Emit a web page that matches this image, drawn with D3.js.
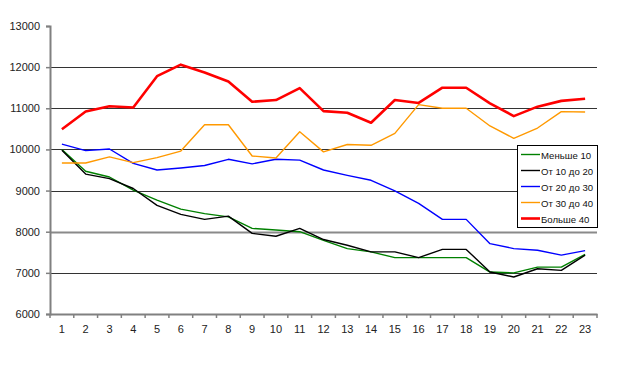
<!DOCTYPE html>
<html>
<head>
<meta charset="utf-8">
<script src="https://cdn.jsdelivr.net/npm/d3@7"></script>
<style>
  body { margin: 0; background: #fff; }
  svg { display: block; font-family: "Liberation Sans", Arial, sans-serif; }
</style>
</head>
<body>
<div id="chart"></div>
<script>
var categories = d3.range(1, 24).map(String);

var seriesNames = ["Меньше 10", "От 10 до 20", "От 20 до 30", "От 30 до 40", "Больше 40"];
var seriesColors = ["#008000", "#000000", "#0000ff", "#ff9900", "#ff0000"];

var less10 = [10000, 9470, 9330, 9010, 8770, 8550, 8440, 8360, 8080, 8040, 8000, 7790,
  7590, 7510, 7370, 7370, 7370, 7370, 7020, 7000, 7140, 7140, 7450];
var from10to20 = [9980, 9400, 9290, 9050, 8640, 8420, 8300, 8380, 7960, 7890, 8080, 7810,
  7670, 7510, 7510, 7370, 7570, 7570, 7020, 6900, 7100, 7060, 7430];
var from20to30 = [10130, 9970, 10010, 9660, 9500, 9550, 9610, 9760, 9650, 9760, 9740, 9500,
  9370, 9250, 8990, 8690, 8300, 8300, 7710, 7590, 7550, 7430, 7540];
var from30to40 = [9670, 9670, 9820, 9680, 9800, 9960, 10600, 10600, 9840, 9790, 10430, 9940,
  10120, 10100, 10390, 11090, 11000, 11000, 10570, 10270, 10520, 10920, 10910];
var more40 = [10490, 10920, 11050, 11020, 11780, 12060, 11870, 11650, 11160, 11200, 11490, 10930,
  10890, 10650, 11200, 11130, 11500, 11500, 11120, 10810, 11040, 11180, 11230];

var yTicks = [6000, 7000, 8000, 9000, 10000, 11000, 12000, 13000];

var width = 623, height = 372;
var plot = { left: 50, right: 597, top: 26, bottom: 314 };

var svg = d3.select("#chart").append("svg")
  .attr("width", width)
  .attr("height", height);

var x = d3.scaleBand().domain(categories).range([plot.left, plot.right]);
var y = d3.scaleLinear().domain([6000, 13000]).range([plot.bottom, plot.top]);

// gridlines (the 8000 one comes out grey and thicker in the original)
svg.append("g")
  .selectAll("line")
  .data(yTicks.filter(function(t) { return t > 6000 && t < 13000; }))
  .enter()
  .append("line")
  .attr("x1", plot.left)
  .attr("x2", plot.right)
  .attr("y1", function(d) { return Math.round(y(d)) + 0.5; })
  .attr("y2", function(d) { return Math.round(y(d)) + 0.5; })
  .attr("stroke", function(d) { return d === 8000 ? "#8a8a8a" : "#333"; })
  .attr("stroke-width", function(d) { return d === 8000 ? 2 : 1; });

// y axis
var yAxis = svg.append("g")
  .attr("transform", "translate(" + plot.left + ",0)")
  .call(d3.axisLeft(y).tickValues(yTicks).tickSize(4).tickPadding(6).tickFormat(d3.format("d")));
yAxis.select(".domain").attr("stroke", "#808080").attr("stroke-width", 2);
yAxis.selectAll(".tick line").attr("stroke", "#808080").attr("stroke-width", 1.5);
yAxis.selectAll(".tick text").attr("font-size", 11).attr("fill", "#222")
  .attr("font-family", "Liberation Sans, Arial, sans-serif");

// x axis
var xAxis = svg.append("g")
  .attr("transform", "translate(0," + plot.bottom + ")")
  .call(d3.axisBottom(x).tickSize(0).tickPadding(11));
xAxis.select(".domain").attr("stroke", "#808080").attr("stroke-width", 2);
xAxis.selectAll(".tick text").attr("font-size", 11).attr("fill", "#222")
  .attr("font-family", "Liberation Sans, Arial, sans-serif");
xAxis.append("g")
  .selectAll("line")
  .data(categories.concat(["end"]))
  .enter()
  .append("line")
  .attr("x1", function(d) { return d === "end" ? plot.right : x(d); })
  .attr("x2", function(d) { return d === "end" ? plot.right : x(d); })
  .attr("y1", 0)
  .attr("y2", 4)
  .attr("stroke", "#808080")
  .attr("stroke-width", 1.5);

// series
var allSeries = [less10, from10to20, from20to30, from30to40, more40];
var line = d3.line()
  .x(function(d, i) { return x(categories[i]) + x.bandwidth() / 2; })
  .y(function(d) { return y(d); });

svg.append("g")
  .selectAll("path")
  .data(allSeries)
  .enter()
  .append("path")
  .attr("d", line)
  .attr("fill", "none")
  .attr("stroke", function(d, i) { return seriesColors[i]; })
  .attr("stroke-width", function(d, i) { return i === 4 ? 2.6 : 1.4; })
  .attr("stroke-linejoin", "round");

// legend
var legend = svg.append("g").attr("transform", "translate(517,145)");
legend.append("rect")
  .attr("x", 0.5).attr("y", 0.5)
  .attr("width", 80).attr("height", 82)
  .attr("fill", "#fff")
  .attr("stroke", "#000");

var items = legend.selectAll(".item")
  .data(seriesNames)
  .enter()
  .append("g")
  .attr("transform", function(d, i) { return "translate(0," + (9.5 + i * 16) + ")"; });
items.append("line")
  .attr("x1", 4).attr("x2", 23)
  .attr("stroke", function(d, i) { return seriesColors[i]; })
  .attr("stroke-width", function(d, i) { return i === 4 ? 2.6 : 1.4; });
items.append("text")
  .attr("x", 24)
  .attr("y", 4)
  .attr("font-size", 9.6)
  .attr("fill", "#111")
  .text(function(d) { return d; });
</script>
</body>
</html>
